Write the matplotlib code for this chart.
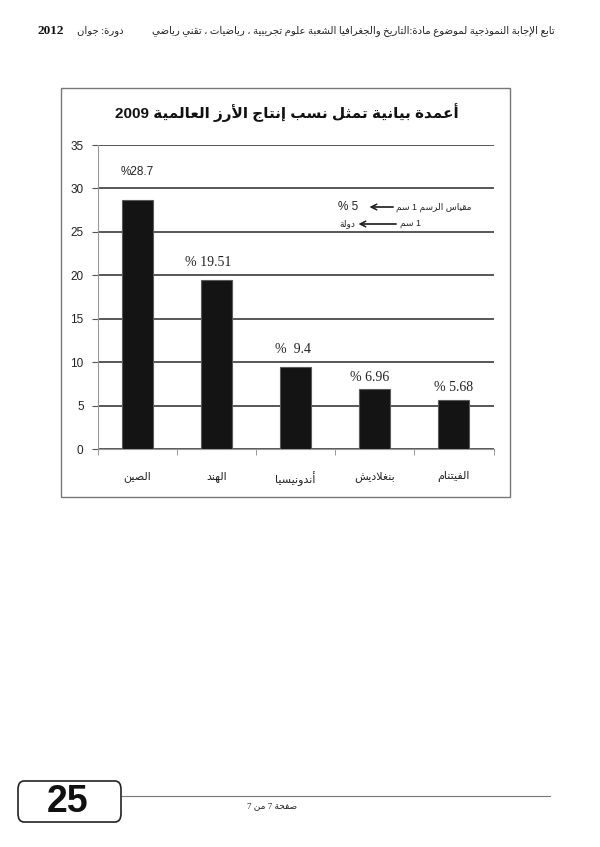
import re
import matplotlib
matplotlib.use("Agg")
import matplotlib.pyplot as plt
from matplotlib.patches import Rectangle, FancyBboxPatch

# data
countries = ["الصين", "الهند", "أندونيسيا", "بنغلاديش", "الفيتنام"]
shares = [28.7, 19.51, 9.4, 6.96, 5.68]
share_labels = ["%28.7", "% 19.51", "%  9.4", "% 6.96", "% 5.68"]
y_ticks = [0, 5, 10, 15, 20, 25, 30, 35]

title = "أعمدة بيانية تمثل نسب إنتاج الأرز العالمية 2009"
header_right = "تابع الإجابة النموذجية لموضوع مادة:التاريخ والجغرافيا الشعبة علوم تجريبية ، رياضيات ، تقني رياضي"
header_left = "دورة: جوان"
header_year = "2012"
scale_1 = "مقياس الرسم 1 سم"
scale_1_val = "% 5"
scale_2 = "1 سم"
scale_2_val = "دولة"
page_num = "25"
page_text = "صفحة 7 من 7"

# label placement (points above bar top, x shift in points)
label_dy = [20, 12, 13, 8, 9]
label_dx = [0, -6, -2, -4, 0]

# --- tiny arabic shaper: matplotlib has no bidi / joining support ---
ARABIC = {
    'ء': (0xFE80, 0), 'آ': (0xFE81, 1), 'أ': (0xFE83, 1), 'ؤ': (0xFE85, 1),
    'إ': (0xFE87, 1), 'ئ': (0xFE89, 2), 'ا': (0xFE8D, 1), 'ب': (0xFE8F, 2),
    'ة': (0xFE93, 1), 'ت': (0xFE95, 2), 'ث': (0xFE99, 2), 'ج': (0xFE9D, 2),
    'ح': (0xFEA1, 2), 'خ': (0xFEA5, 2), 'د': (0xFEA9, 1), 'ذ': (0xFEAB, 1),
    'ر': (0xFEAD, 1), 'ز': (0xFEAF, 1), 'س': (0xFEB1, 2), 'ش': (0xFEB5, 2),
    'ص': (0xFEB9, 2), 'ض': (0xFEBD, 2), 'ط': (0xFEC1, 2), 'ظ': (0xFEC5, 2),
    'ع': (0xFEC9, 2), 'غ': (0xFECD, 2), 'ف': (0xFED1, 2), 'ق': (0xFED5, 2),
    'ك': (0xFED9, 2), 'ل': (0xFEDD, 2), 'م': (0xFEE1, 2), 'ن': (0xFEE5, 2),
    'ه': (0xFEE9, 2), 'و': (0xFEED, 1), 'ى': (0xFEEF, 1), 'ي': (0xFEF1, 2),
}
LAM_ALEF = {'آ': 0xFEF5, 'أ': 0xFEF7, 'إ': 0xFEF9, 'ا': 0xFEFB}


def shape(s):
    units = []
    i = 0
    while i < len(s):
        c = s[i]
        if c == 'ل' and i + 1 < len(s) and s[i + 1] in LAM_ALEF:
            units.append((LAM_ALEF[s[i + 1]], 1))
            i += 2
            continue
        units.append(ARABIC.get(c, (c, None)))
        i += 1
    out = []
    for k, (b, j) in enumerate(units):
        if j is None:
            out.append(b)
            continue
        prev_j = units[k - 1][1] if k > 0 else None
        next_j = units[k + 1][1] if k + 1 < len(units) else None
        jp = prev_j == 2
        jn = j == 2 and next_j in (1, 2)
        if j == 0:
            form = 0
        elif jp and jn:
            form = 3
        elif jp:
            form = 1
        elif jn:
            form = 2
        else:
            form = 0
        out.append(chr(b + form))
    runs = re.findall(r'[0-9A-Za-z.]+|[^0-9A-Za-z.]+', ''.join(out))
    return ''.join(r if re.match(r'[0-9A-Za-z.]', r) else r[::-1] for r in reversed(runs))


W, H = 600, 847


def px(x, y):
    return x / W, 1 - y / H


SANS = ['Liberation Sans', 'DejaVu Sans']
SERIF = ['Liberation Serif', 'DejaVu Sans']

fig = plt.figure(figsize=(6, 8.47), dpi=100)
fig.patch.set_facecolor('white')

# chart frame
x0, y0 = px(61, 497)
x1, y1 = px(510, 88)
fig.add_artist(Rectangle((x0, y0), x1 - x0, y1 - y0, transform=fig.transFigure,
                         fill=False, edgecolor='#777777', lw=1.0))

ax = fig.add_axes([97.5 / W, 1 - 449 / H, 396 / W, 304 / H])
pos = list(range(len(countries)))
ax.bar(pos, shares, width=0.39, color='#141414', edgecolor='#5a5a5a', lw=0.8, zorder=3)

for i, (v, lab) in enumerate(zip(shares, share_labels)):
    fam = SANS if i == 0 else SERIF
    fs = 8.5 if i == 0 else 10
    ax.annotate(lab, xy=(i, v), xytext=(label_dx[i], label_dy[i]), textcoords='offset points',
                ha='center', va='center', fontsize=fs, family=fam, color='#222222')

ax.set_xlim(-0.5, len(countries) - 0.5)
ax.set_ylim(0, 35)
ax.set_yticks(y_ticks)
ax.set_yticklabels([str(t) for t in y_ticks], family=SANS, fontsize=8.5, color='#222222')
ax.set_xticks(pos)
ax.set_xticklabels([shape(c) for c in countries], family=SANS, fontsize=8, color='#222222')
ax.set_xticks([p - 0.5 for p in pos] + [len(pos) - 0.5], minor=True)
ax.tick_params(axis='x', which='major', length=0, pad=16)
ax.tick_params(axis='x', which='minor', length=4, color='#888888', direction='out')
ax.tick_params(axis='y', length=4, color='#555555', pad=6)
ax.yaxis.grid(True, color='#2a2a2a', lw=1.1)
ax.set_axisbelow(True)
for s in ['top', 'right']:
    ax.spines[s].set_visible(False)
ax.spines['left'].set_color('#999999')
ax.spines['bottom'].set_color('#999999')
ax.patch.set_alpha(0)

# title
fig.text(*px(287, 113), shape(title), ha='center', va='center', fontsize=11,
         fontweight='bold', family=SANS, color='#111111')

# scale note
fig.text(*px(338, 207), scale_1_val, ha='left', va='center', fontsize=8.5, family=SANS, color='#222222')
fig.text(*px(471, 207), shape(scale_1), ha='right', va='center', fontsize=6.5, family=SANS, color='#222222')
fig.text(*px(339, 224), shape(scale_2_val), ha='left', va='center', fontsize=6.5, family=SANS, color='#222222')
fig.text(*px(421, 224), shape(scale_2), ha='right', va='center', fontsize=6.5, family=SANS, color='#222222')
arrow = dict(arrowstyle='->', lw=0.9, color='#222222', mutation_scale=10)
fig.add_artist(plt.annotate('', xy=px(367, 207), xytext=px(396, 207), xycoords='figure fraction',
                            textcoords='figure fraction', arrowprops=arrow))
fig.add_artist(plt.annotate('', xy=px(356, 224), xytext=px(399, 224), xycoords='figure fraction',
                            textcoords='figure fraction', arrowprops=arrow))

# page header
fig.text(*px(555, 31), shape(header_right), ha='right', va='center', fontsize=7.3, family=SERIF, color='#222222')
fig.text(*px(37, 31), header_year, ha='left', va='center', fontsize=9.5, fontweight='bold',
         family=SERIF, color='#111111')
fig.text(*px(124, 31), shape(header_left), ha='right', va='center', fontsize=7.3, family=SERIF, color='#222222')

# page footer
bx0, by0 = px(18, 822)
bx1, by1 = px(121, 781)
fig.add_artist(FancyBboxPatch((bx0, by0), bx1 - bx0, by1 - by0, boxstyle='round,pad=0,rounding_size=0.01',
                              transform=fig.transFigure, fill=False, edgecolor='#222222', lw=1.2))
fig.text(*px(68, 802), page_num, ha='center', va='center', fontsize=27, fontweight='bold',
         family=SANS, color='#111111')
fig.add_artist(plt.Line2D([122 / W, 550 / W], [1 - 796 / H, 1 - 796 / H], transform=fig.transFigure,
                          color='#777777', lw=0.8))
fig.text(*px(272, 806), shape(page_text), ha='center', va='center', fontsize=6.5, family=SERIF, color='#222222')

fig.savefig('out.png', dpi=100)
